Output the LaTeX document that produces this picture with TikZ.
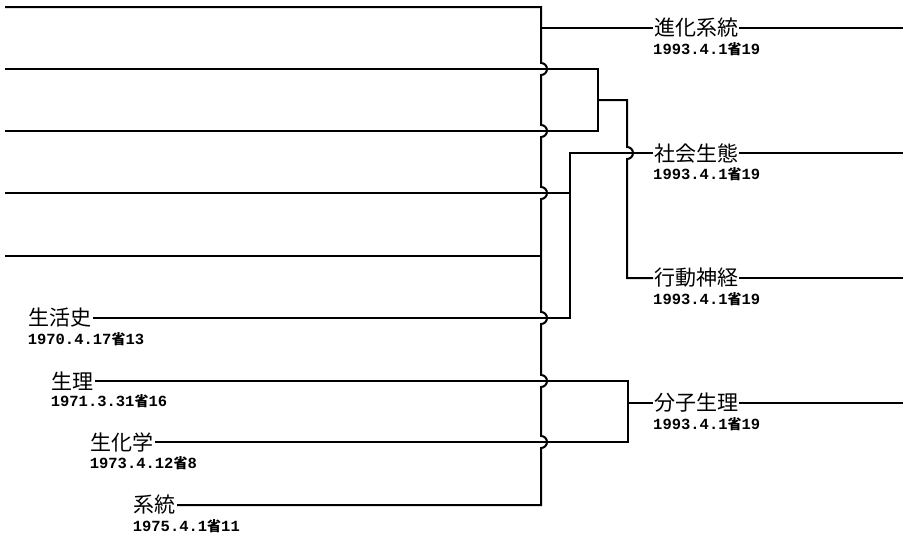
\documentclass[tikz,border=0pt]{standalone}
\usepackage{fontspec}
\usepackage{tikz}
\usetikzlibrary{positioning}
\newfontfamily\jfont{Noto Sans CJK JP}
\newfontfamily\datefont{Liberation Mono}
\newcommand{\shou}{{\jfont\fontsize{14}{14}\selectfont 省}}

\begin{document}
\begin{tikzpicture}[
    x=1pt, y=1pt,
    line/.style={line width=2pt, black},
    dept/.style={inner sep=1pt, font=\jfont\fontsize{21}{21}\selectfont},
    ldept/.style={dept, anchor=east},
    rdept/.style={dept, anchor=west},
    date/.style={inner sep=0pt, font=\datefont\bfseries\fontsize{15.5}{15.5}\selectfont},
]
\useasboundingbox (0,0) rectangle (911,-538);

% === unlabelled lines on the left ===
\coordinate (l1) at (5,-7);
\coordinate (l2) at (5,-69);
\coordinate (l3) at (5,-131);
\coordinate (l4) at (5,-193);
\coordinate (l5) at (5,-256);

% === old departments ===
\node[ldept] (seik) at (93,-318) {生活史};
\node[date, below right=3pt and 0pt of seik.south west] (seikd) {1970.4.17\shou13};
\node[ldept] (seiri) at (95,-381) {生理};
\node[date, below right=3pt and 0pt of seiri.south west] (seirid) {1971.3.31\shou16};
\node[ldept] (seika) at (155,-442) {生化学};
\node[date, below right=3pt and 0pt of seika.south west] (seikad) {1973.4.12\shou8};
\node[ldept] (kei) at (177,-505) {系統};
\node[date, below right=3pt and 0pt of kei.south west] (keid) {1975.4.1\shou11};

% === new departments ===
\node[rdept] (shinka) at (653,-28) {進化系統};
\node[date, below right=3pt and 0pt of shinka.south west] (shinkad) {1993.4.1\shou19};
\node[rdept] (shakai) at (653,-153) {社会生態};
\node[date, below right=3pt and 0pt of shakai.south west] (shakaid) {1993.4.1\shou19};
\node[rdept] (koudou) at (653,-278) {行動神経};
\node[date, below right=3pt and 0pt of koudou.south west] (koudoud) {1993.4.1\shou19};
\node[rdept] (bunshi) at (653,-403) {分子生理};
\node[date, below right=3pt and 0pt of bunshi.south west] (bunshid) {1993.4.1\shou19};

\coordinate (r1) at (903,-28);
\coordinate (r2) at (903,-153);
\coordinate (r3) at (903,-278);
\coordinate (r4) at (903,-403);

% junctions
\coordinate (tk) at (541,-28);
\coordinate (c2) at (541,-69);
\coordinate (c3) at (541,-131);
\coordinate (c4) at (541,-193);
\coordinate (c5) at (541,-256);
\coordinate (c6) at (541,-318);
\coordinate (c7) at (541,-381);
\coordinate (c8) at (541,-442);
\coordinate (m23) at (598,-100);
\coordinate (x53) at (627,-153);
\coordinate (m45) at (570,-153);
\coordinate (m78) at (628,-403);

% === trunk to 進化系統 ===
\draw[line] (l1) -| ([yshift=6pt]c2) arc[start angle=90, end angle=-90, radius=6pt]
    -- ([yshift=6pt]c3) arc[start angle=90, end angle=-90, radius=6pt]
    -- ([yshift=6pt]c4) arc[start angle=90, end angle=-90, radius=6pt]
    -- ([yshift=6pt]c6) arc[start angle=90, end angle=-90, radius=6pt]
    -- ([yshift=6pt]c7) arc[start angle=90, end angle=-90, radius=6pt]
    -- ([yshift=6pt]c8) arc[start angle=90, end angle=-90, radius=6pt]
    |- (kei.east);
\draw[line] (l5) -- (c5);
\draw[line] (tk) -- (shinka.west);
\draw[line] (shinka.east) -- (r1);

% === 行動神経 ===
\draw[line] (l2) -| (m23) |- (l3);
\draw[line] (m23) -| ([yshift=6pt]x53) arc[start angle=90, end angle=-90, radius=6pt]
    |- (koudou.west);
\draw[line] (koudou.east) -- (r3);

% === 社会生態 ===
\draw[line] (l4) -| (m45);
\draw[line] (seik.east) -| (m45) -- (shakai.west);
\draw[line] (shakai.east) -- (r2);

% === 分子生理 ===
\draw[line] (seiri.east) -| (m78) |- (seika.east);
\draw[line] (m78) -- (bunshi.west);
\draw[line] (bunshi.east) -- (r4);

\end{tikzpicture}
\end{document}
